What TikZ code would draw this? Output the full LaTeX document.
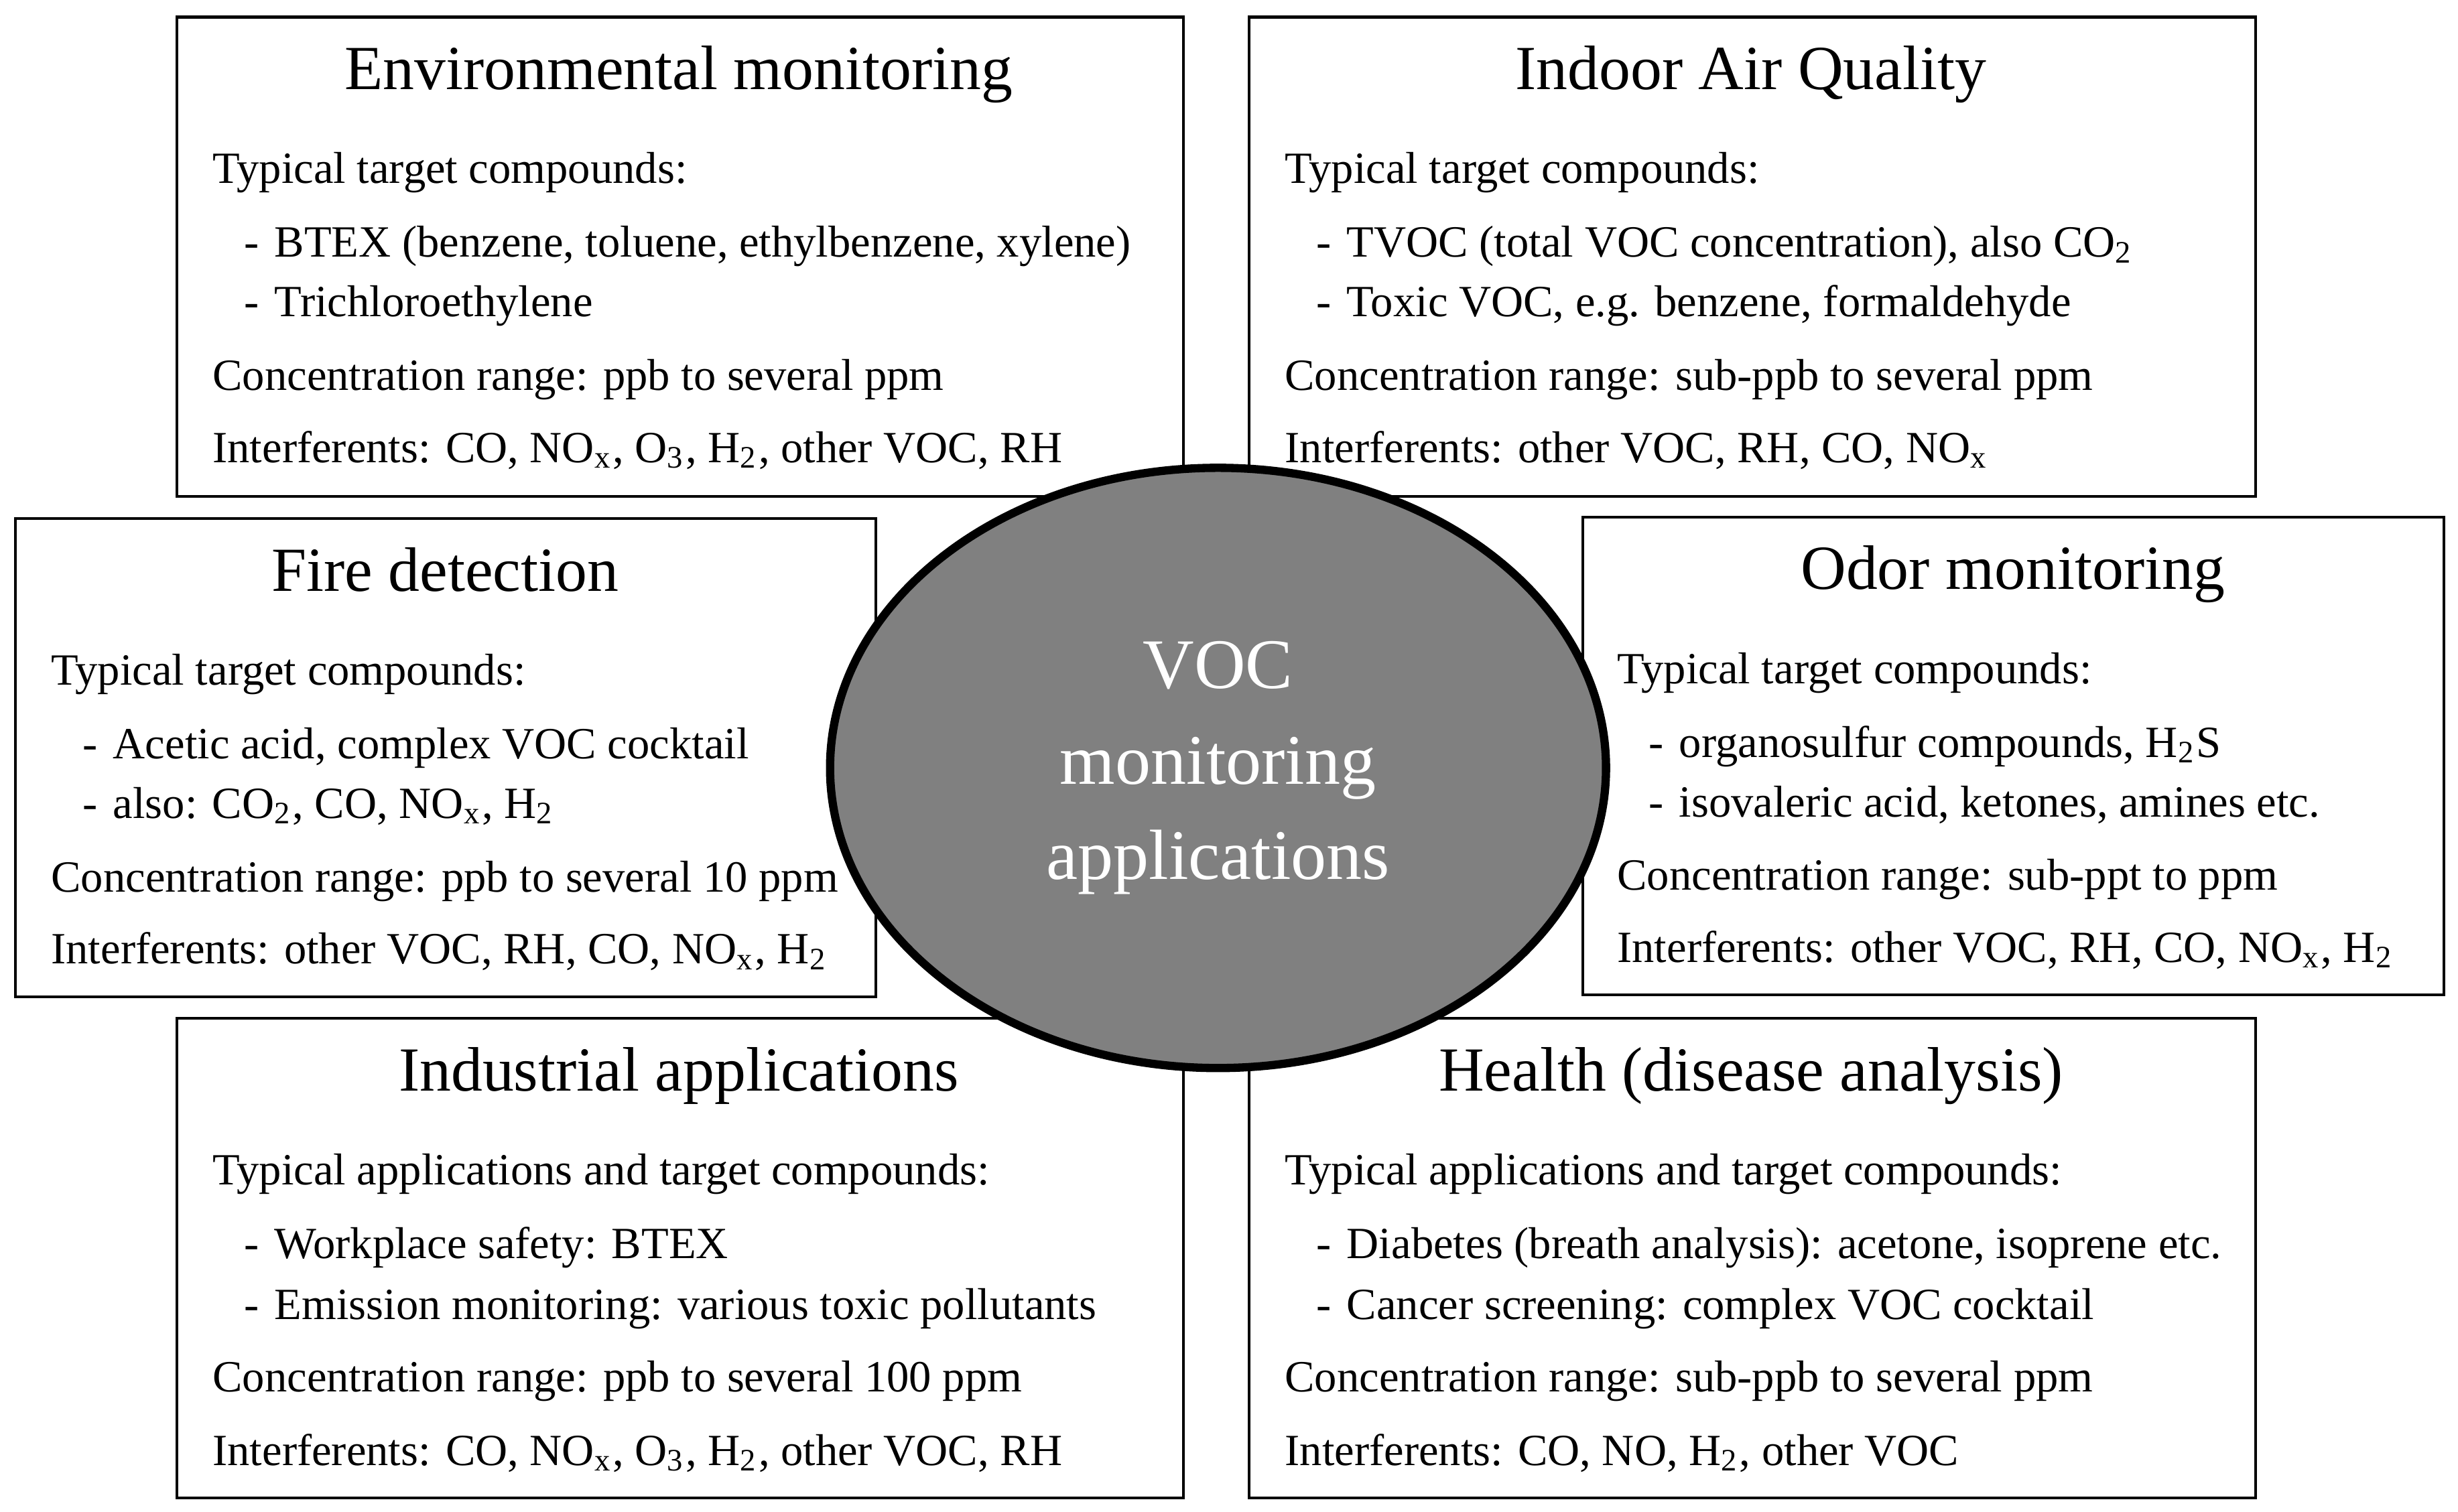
\documentclass[tikz,border=0pt]{standalone}
\usepackage{fontspec}
\setmainfont{Liberation Serif}
\usetikzlibrary{shapes.geometric,positioning}
\tikzset{
    panel/.style={draw,line width=0.5pt,fill=white,anchor=north west,inner sep=0pt},
    wide/.style={minimum width=6.42cm,minimum height=3.06cm},
    narrow/.style={minimum width=5.49cm,minimum height=3.05cm},
    heading/.style={anchor=center,inner sep=0pt,text height=1.5ex,text depth=0.25ex,font=\fontsize{11.4}{13}\selectfont},
    entry/.style={anchor=west,inner sep=0pt,text height=1.5ex,text depth=0.25ex,font=\fontsize{8.1}{10}\selectfont},
    hub/.style={ellipse,draw,line width=1.5pt,fill=black!50,text=white,align=center,inner sep=0pt,
        minimum width=4.95cm,minimum height=3.83cm,font=\fontsize{12.9}{17.3}\selectfont}
}
\newcommand{\itemdash}{-\hspace{1mm}}

\begin{document}
\begin{tikzpicture}
    \useasboundingbox (0,0) rectangle (15.68,-9.648);

    % Environmental monitoring
    \begin{scope}[shift={(1.12,-0.10)}]
        \node[panel,wide] (env) at (0,0) {};
        \node[heading] (env-h) at (3.21,-0.37) {Environmental monitoring};
        \node[entry] (env-1) at (0.23,-0.97) {Typical target compounds:};
        \node[entry] (env-2) at (0.43,-1.44) {\itemdash BTEX (benzene, toluene, ethylbenzene, xylene)};
        \node[entry] (env-3) at (0.43,-1.82) {\itemdash Trichloroethylene};
        \node[entry] (env-4) at (0.23,-2.29) {Concentration range: ppb to several ppm};
        \node[entry] (env-5) at (0.23,-2.75) {Interferents: CO, NO\textsubscript{x}, O\textsubscript{3}, H\textsubscript{2}, other VOC, RH};
    \end{scope}

    % Indoor air quality
    \begin{scope}[shift={(7.96,-0.10)}]
        \node[panel,wide] (iaq) at (0,0) {};
        \node[heading] (iaq-h) at (3.21,-0.37) {Indoor Air Quality};
        \node[entry] (iaq-1) at (0.23,-0.97) {Typical target compounds:};
        \node[entry] (iaq-2) at (0.43,-1.44) {\itemdash TVOC (total VOC concentration), also CO\textsubscript{2}};
        \node[entry] (iaq-3) at (0.43,-1.82) {\itemdash Toxic VOC, e.g. benzene, formaldehyde};
        \node[entry] (iaq-4) at (0.23,-2.29) {Concentration range: sub-ppb to several ppm};
        \node[entry] (iaq-5) at (0.23,-2.75) {Interferents: other VOC, RH, CO, NO\textsubscript{x}};
    \end{scope}

    % Fire detection
    \begin{scope}[shift={(0.09,-3.30)}]
        \node[panel,narrow] (fire) at (0,0) {};
        \node[heading] (fire-h) at (2.75,-0.37) {Fire detection};
        \node[entry] (fire-1) at (0.23,-0.97) {Typical target compounds:};
        \node[entry] (fire-2) at (0.43,-1.44) {\itemdash Acetic acid, complex VOC cocktail};
        \node[entry] (fire-3) at (0.43,-1.82) {\itemdash also: CO\textsubscript{2}, CO, NO\textsubscript{x}, H\textsubscript{2}};
        \node[entry] (fire-4) at (0.23,-2.29) {Concentration range: ppb to several 10 ppm};
        \node[entry] (fire-5) at (0.23,-2.75) {Interferents: other VOC, RH, CO, NO\textsubscript{x}, H\textsubscript{2}};
    \end{scope}

    % Odor monitoring
    \begin{scope}[shift={(10.09,-3.29)}]
        \node[panel,narrow] (odor) at (0,0) {};
        \node[heading] (odor-h) at (2.75,-0.37) {Odor monitoring};
        \node[entry] (odor-1) at (0.22,-0.97) {Typical target compounds:};
        \node[entry] (odor-2) at (0.42,-1.44) {\itemdash organosulfur compounds, H\textsubscript{2}S};
        \node[entry] (odor-3) at (0.42,-1.82) {\itemdash isovaleric acid, ketones, amines etc.};
        \node[entry] (odor-4) at (0.22,-2.29) {Concentration range: sub-ppt to ppm};
        \node[entry] (odor-5) at (0.22,-2.75) {Interferents: other VOC, RH, CO, NO\textsubscript{x}, H\textsubscript{2}};
    \end{scope}

    % Industrial applications
    \begin{scope}[shift={(1.12,-6.49)}]
        \node[panel,wide] (ind) at (0,0) {};
        \node[heading] (ind-h) at (3.21,-0.37) {Industrial applications};
        \node[entry] (ind-1) at (0.23,-0.97) {Typical applications and target compounds:};
        \node[entry] (ind-2) at (0.43,-1.44) {\itemdash Workplace safety: BTEX};
        \node[entry] (ind-3) at (0.43,-1.83) {\itemdash Emission monitoring: various toxic pollutants};
        \node[entry] (ind-4) at (0.23,-2.29) {Concentration range: ppb to several 100 ppm};
        \node[entry] (ind-5) at (0.23,-2.76) {Interferents: CO, NO\textsubscript{x}, O\textsubscript{3}, H\textsubscript{2}, other VOC, RH};
    \end{scope}

    % Health (disease analysis)
    \begin{scope}[shift={(7.96,-6.49)}]
        \node[panel,wide] (health) at (0,0) {};
        \node[heading] (health-h) at (3.21,-0.37) {Health (disease analysis)};
        \node[entry] (health-1) at (0.23,-0.97) {Typical applications and target compounds:};
        \node[entry] (health-2) at (0.43,-1.44) {\itemdash Diabetes (breath analysis): acetone, isoprene etc.};
        \node[entry] (health-3) at (0.43,-1.83) {\itemdash Cancer screening: complex VOC cocktail};
        \node[entry] (health-4) at (0.23,-2.29) {Concentration range: sub-ppb to several ppm};
        \node[entry] (health-5) at (0.23,-2.76) {Interferents: CO, NO, H\textsubscript{2}, other VOC};
    \end{scope}

    % centre
    \node[hub] (voc) at (7.77,-4.90) {VOC\\monitoring\\applications};
\end{tikzpicture}
\end{document}
